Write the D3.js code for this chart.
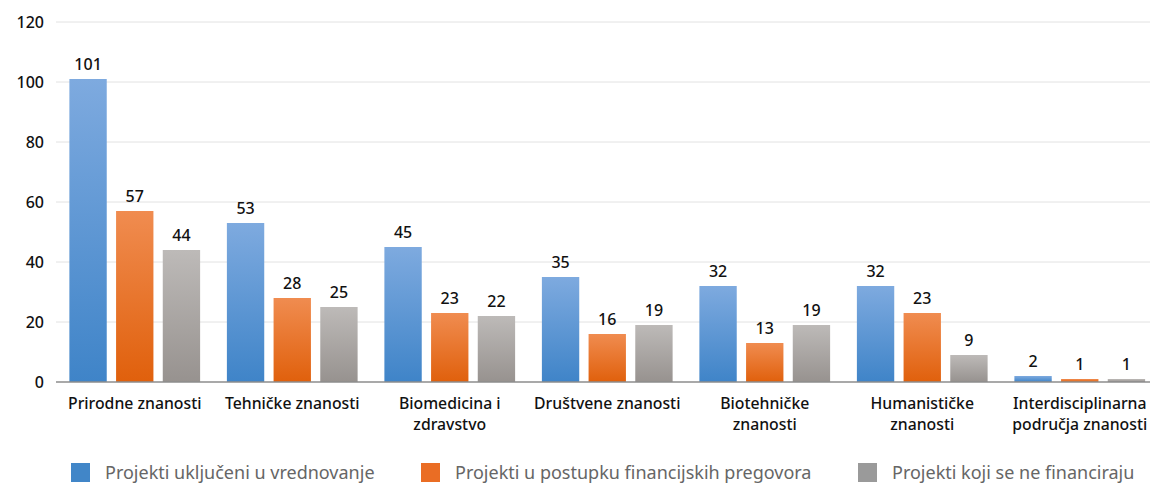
<!DOCTYPE html>
<html>
<head>
<meta charset="utf-8">
<script src="https://cdn.jsdelivr.net/npm/d3@7"></script>
<style>
  body { margin: 0; background: #fff; }
  text { font-family: "Noto Sans", "Open Sans", sans-serif; }
</style>
</head>
<body>
<svg id="chart" width="1154" height="483"></svg>
<script>
// Data
const categories = [
    ["Prirodne znanosti"],
    ["Tehničke znanosti"],
    ["Biomedicina i", "zdravstvo"],
    ["Društvene znanosti"],
    ["Biotehničke", "znanosti"],
    ["Humanističke", "znanosti"],
    ["Interdisciplinarna", "područja znanosti"]
];
const seriesNames = [
    "Projekti uključeni u vrednovanje",
    "Projekti u postupku financijskih pregovora",
    "Projekti koji se ne financiraju"
];
const evaluated = [101, 53, 45, 35, 32, 32, 2];
const negotiating = [57, 28, 23, 16, 13, 23, 1];
const notFunded = [44, 25, 22, 19, 19, 9, 1];
const yTicks = [0, 20, 40, 60, 80, 100, 120];

const series = [evaluated, negotiating, notFunded];
const colors = [
    { top: "#7eaadf", bottom: "#3f84c8", legend: "#4186c8" },
    { top: "#f08c50", bottom: "#e0600c", legend: "#ea6d24" },
    { top: "#bdbab8", bottom: "#97928f", legend: "#9a9a9a" }
];

const svg = d3.select("#chart");
const W = 1154, H = 483;
const plotLeft = 56, plotTop = 22, plotBottom = 382;

const x0 = d3.scaleBand()
    .domain(d3.range(categories.length))
    .range([plotLeft, plotLeft + 157.5 * categories.length])
    .paddingInner(0.17)
    .paddingOuter(0.085);
const x1 = d3.scaleBand()
    .domain(d3.range(series.length))
    .range([0, x0.bandwidth()])
    .paddingInner(0.2);
const y = d3.scaleLinear().domain([0, 120]).range([plotBottom, plotTop]);

// Gradients
const defs = svg.append("defs");
colors.forEach((c, i) => {
    const g = defs.append("linearGradient")
        .attr("id", "grad" + i)
        .attr("x1", 0).attr("y1", 0).attr("x2", 0).attr("y2", 1);
    g.append("stop").attr("offset", "0%").attr("stop-color", c.top);
    g.append("stop").attr("offset", "100%").attr("stop-color", c.bottom);
});

// Gridlines
svg.append("g")
    .selectAll("line")
    .data(yTicks.filter(t => t > 0))
    .enter().append("line")
    .attr("x1", plotLeft).attr("x2", 1150)
    .attr("y1", d => y(d)).attr("y2", d => y(d))
    .attr("stroke", "#e2e2e2").attr("stroke-width", 1);

// Y axis labels
const yAxis = d3.axisLeft(y).tickValues(yTicks).tickSize(0).tickPadding(12);
const yg = svg.append("g")
    .attr("transform", `translate(${plotLeft},0)`)
    .call(yAxis);
yg.select(".domain").remove();
yg.selectAll("text")
    .style("font-family", "'Noto Sans', sans-serif")
    .style("font-size", "16px")
    .style("font-weight", "500")
    .attr("fill", "#111");

// Bars
const groups = svg.append("g")
    .selectAll("g")
    .data(categories)
    .enter().append("g")
    .attr("transform", (d, i) => `translate(${x0(i)},0)`);

series.forEach((vals, s) => {
    groups.append("rect")
        .attr("x", x1(s))
        .attr("width", x1.bandwidth())
        .attr("y", (d, i) => y(vals[i]))
        .attr("height", (d, i) => y(0) - y(vals[i]))
        .attr("fill", `url(#grad${s})`);
    groups.append("text")
        .attr("x", x1(s) + x1.bandwidth() / 2)
        .attr("y", (d, i) => y(vals[i]) - 9)
        .attr("text-anchor", "middle")
        .style("font-size", "16px")
        .style("font-weight", "500")
        .attr("fill", "#111")
        .text((d, i) => vals[i]);
});

// Baseline
svg.append("line")
    .attr("x1", plotLeft).attr("x2", 1150)
    .attr("y1", y(0)).attr("y2", y(0))
    .attr("stroke", "#8c8c8c").attr("stroke-width", 1.5);

// Category labels
groups.append("text")
    .attr("x", x0.bandwidth() / 2)
    .attr("y", y(0) + 27)
    .attr("text-anchor", "middle")
    .style("font-size", "15.8px")
    .style("font-weight", "500")
    .attr("fill", "#111")
    .selectAll("tspan")
    .data(d => d)
    .enter().append("tspan")
    .attr("x", x0.bandwidth() / 2)
    .attr("dy", (d, i) => i === 0 ? 0 : 21)
    .text(d => d);

// Legend
const legendX = [71, 421, 858];
const legend = svg.append("g")
    .selectAll("g")
    .data(seriesNames)
    .enter().append("g")
    .attr("transform", (d, i) => `translate(${legendX[i]},463)`);
legend.append("rect")
    .attr("width", 19).attr("height", 19)
    .attr("fill", (d, i) => colors[i].legend);
legend.append("text")
    .attr("x", 34).attr("y", 16)
    .style("font-size", "18px")
    .attr("fill", "#666")
    .text(d => d);
</script>
</body>
</html>
